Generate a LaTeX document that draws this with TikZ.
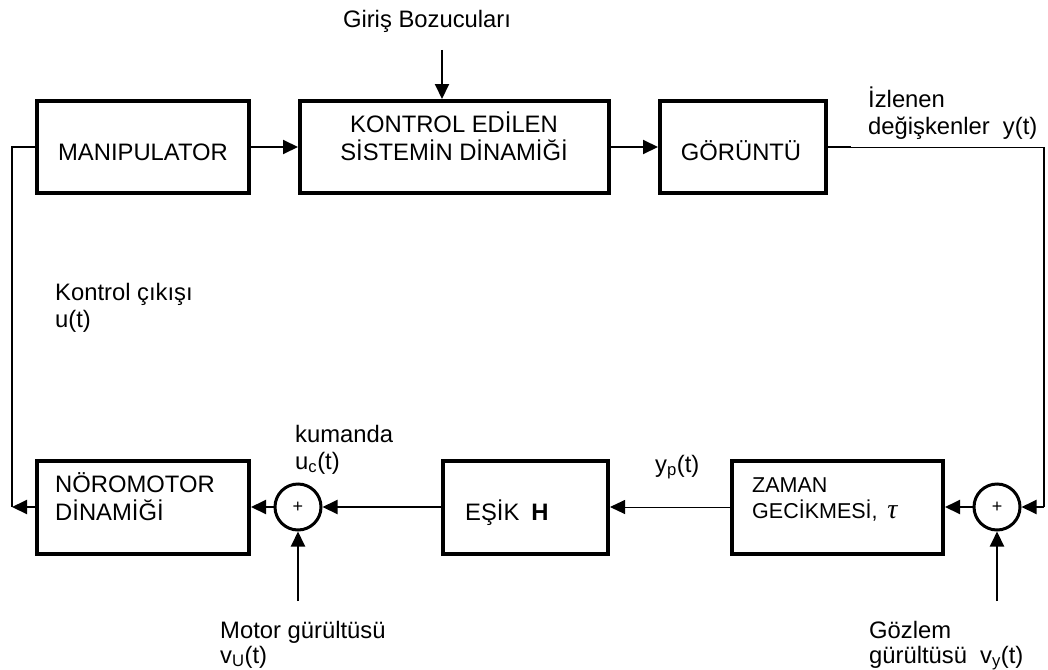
\documentclass[tikz,border=0pt]{standalone}
\usepackage{fontspec}
\setmainfont{Liberation Sans}
\newfontfamily\grk{Liberation Serif}
\usetikzlibrary{arrows.meta}
\begin{document}
\begin{tikzpicture}[x=1pt,y=-1pt,
  every node/.style={font=\fontsize{23.8}{28}\selectfont, inner sep=0pt},
  blk/.style={draw, line width=4pt, rectangle, inner sep=0pt, minimum height=92pt},
  sumnode/.style={draw, circle, line width=3pt, minimum size=46pt, inner sep=0pt, font=\fontsize{18}{20}\selectfont},
  conn/.style={line width=2pt},
  thinline/.style={line width=1pt},
  tip/.style={-{Triangle[length=15pt,width=14pt]}},
  lbl/.style={anchor=base west},
  small/.style={font=\fontsize{21.5}{25}\selectfont}]
\useasboundingbox (0,0) rectangle (1048,669);

% blocks
\node[blk, minimum width=212pt] (man) at (143,147) {};
\node[blk, minimum width=309pt] (kon) at (454.5,147) {};
\node[blk, minimum width=166pt] (gor) at (743,147) {};
\node[blk, minimum width=212pt, minimum height=93pt] (nor) at (143,507) {};
\node[blk, minimum width=165pt, minimum height=93pt] (esik) at (525.5,507) {};
\node[blk, minimum width=211pt, minimum height=93pt] (zam) at (837.5,507) {};
\node[sumnode] (s1) at (298,507) {+};
\node[sumnode] (s2) at (997,507) {+};

% block texts
\node[anchor=base] (manT) at (143,160) {MANIPULATOR};
\node[anchor=base] (konT1) at (454,132) {KONTROL EDİLEN};
\node[anchor=base] (konT2) at (454,160) {SİSTEMİN DİNAMİĞİ};
\node[anchor=base] (gorT) at (741,160) {GÖRÜNTÜ};
\node[lbl] (norT1) at (55,492) {NÖROMOTOR};
\node[lbl] (norT2) at (55,520) {DİNAMİĞİ};
\node[lbl] (esikT) at (465,520) {EŞİK\hspace{0.5em}\textbf{H}};
\node[lbl, small] (zamT1) at (752,492) {ZAMAN};
\node[lbl, small] (zamT2) at (752,518) {GECİKMESİ,\hspace{0.45em}{\grk\itshape\fontsize{28}{30}\selectfont τ}};

% free labels
\node[anchor=base] (gir) at (427,28) {Giriş Bozucuları};
\node[lbl] (izl1) at (868,107) {İzlenen};
\node[lbl] (izl2) at (868,134) {değişkenler\hspace{0.55em}y(t)};
\node[lbl] (kc1) at (55,300) {Kontrol çıkışı};
\node[lbl] (kc2) at (55,327) {u(t)};
\node[lbl] (kum1) at (295,442) {kumanda};
\node[lbl] (kum2) at (295,469) {u\textsubscript{c}(t)};
\node[lbl] (yp) at (655,472) {y\textsubscript{p}(t)};
\node[lbl] (mg1) at (220,638) {Motor gürültüsü};
\node[lbl] (mg2) at (220,663) {v\textsubscript{U}(t)};
\node[lbl] (gz1) at (869,638) {Gözlem};
\node[lbl] (gz2) at (869,663) {gürültüsü\hspace{0.55em}v\textsubscript{y}(t)};

% connectors
\coordinate (g0) at (442,50);
\coordinate (o1) at (851,147);
\coordinate (o2) at (1044,147);
\coordinate (o3) at (1044,507);
\coordinate (lc) at (12,507);
\coordinate (lt) at (12,147);
\coordinate (n1) at (298,601);
\coordinate (n2) at (997,601);

\draw[conn, tip] (man.east) -- (kon.west);
\draw[conn, tip] (kon.east) -- (gor.west);
\draw[conn, tip] (g0) -- (g0 |- kon.north);
\draw[conn] (gor.east) -- (o1);
\draw[thinline] (o1) -- (o2);
\draw[conn] (o2) -- (o3);
\draw[conn, tip] (o3) -- (s2.east);
\draw[conn, tip] (s2.west) -- (zam.east);
\draw[thinline, tip] (zam.west) -- (esik.east);
\draw[conn, tip] (esik.west) -- (s1.east);
\draw[conn, tip] (s1.west) -- (nor.east);
\draw[conn, tip] (nor.west) -- (lc);
\draw[conn] (lc) -- (lt) -- (man.west);
\draw[conn, tip] (n1) -- (s1.south);
\draw[conn, tip] (n2) -- (s2.south);
\end{tikzpicture}
\end{document}
